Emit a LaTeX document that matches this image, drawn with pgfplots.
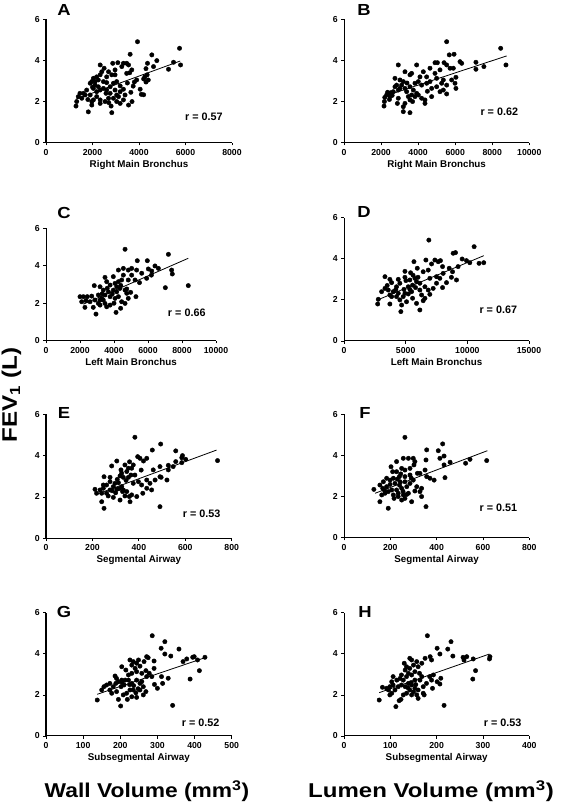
\documentclass[border=0pt]{standalone}
\usepackage{fontspec}
\setmainfont{Liberation Sans}
\usepackage{graphicx}
\usepackage{pgfplots}
\pgfplotsset{compat=1.18}
\pgfplotsset{
 panel/.style={
  scale only axis, enlargelimits=false, anchor=south west,
  axis lines=left, axis line style={-, line width=1pt},
  ymin=0, ymax=6, ytick={0,2,4,6}, xmin=0,
  tick style={black, line width=0.8pt}, tick align=outside, major tick length=2.8pt,
  /pgf/number format/assume math mode=true, /pgf/number format/1000 sep={},
  scaled ticks=false, clip=false,
  tick label style={font=\fontsize{8.7}{9}\selectfont\bfseries},
  xlabel style={font=\fontsize{9.8}{10}\selectfont\bfseries, at={(axis description cs:0.5,0)}, anchor=base, yshift=-24.6pt},
 },
 dots/.style={only marks, mark=*, mark size=2.2pt, black},
 fit/.style={no marks, black, line width=0.8pt},
}
\newcommand{\rlab}[3]{\node[font=\fontsize{10.8}{11}\selectfont\bfseries] at (rel axis cs:#1,#2) {#3};}
\begin{document}
\begin{tikzpicture}
\path[use as bounding box] (0pt,0pt) rectangle (567pt,805pt);
% ---------- A
\begin{axis}[panel, at={(46pt,662.3pt)}, width=186pt, height=123.4pt, xmax=8000, xtick={0,2000,4000,6000,8000}, xlabel={Right Main Bronchus}]
\addplot[dots] coordinates {(3935,4.91) (5744,4.59) (5787,3.78) (5485,3.91) (5270,3.57) (4552,4.27) (4767,3.99) (3619,4.30) (4366,3.86) (4624,3.70) (4300,3.60) (4250,3.20) (4350,3.30) (4200,3.10) (4300,2.95) (4400,3.05) (3800,2.95) (3900,3.05) (3750,2.75) (4050,2.60) (4100,2.35) (4200,2.33) (3700,2.00) (3550,1.83) (3330,2.08)
(2330,3.78) (2870,3.86) (3090,3.89) (3330,3.86) (3470,3.86) (3550,3.78) (3260,3.70) (3690,3.54) (3470,3.37) (2970,3.54) (2830,3.30) (2970,3.30) (2610,3.20) (2400,3.45) (2330,3.30) (2180,3.20) (2040,3.13) (1970,2.97) (1900,2.89) (2110,2.80) (2250,2.72) (2330,2.56) (2470,2.64) (2610,2.56) (2760,2.72) (2900,2.89) (3040,2.97) (3190,2.76) (3190,2.48) (3330,2.60) (3400,2.32) (3120,2.24) (2900,2.16) (2690,2.16) (2540,2.00) (2330,2.08) (2180,2.24) (2040,2.08) (1900,2.32) (1750,2.56) (1680,2.32) (1610,2.40) (1460,2.40) (1390,2.24) (1540,2.16) (1320,2.00) (1290,1.78) (1820,1.50) (1970,1.83) (1970,2.00) (2330,1.91) (2800,1.78) (2830,1.46) (3040,2.00) (3190,1.91) (2580,2.40) (2760,2.40) (2970,2.56) (3040,2.32) (2180,2.48) (2040,2.64) (2110,2.97) (2250,3.05) (2470,2.97) (2610,2.92) (2690,3.45) (2500,3.62) (3600,3.40) (3500,2.90) (3650,2.45) (2000,2.70) (1800,2.10) (2700,1.95)};
\addplot[fit] coordinates {(1290,2.12) (5770,3.97)};
\rlab{0.849}{0.211}{r = 0.57}
\end{axis}
% ---------- B
\begin{axis}[panel, at={(344pt,662.3pt)}, width=185.3pt, height=123.4pt, xmax=10000, xtick={0,2000,4000,6000,8000,10000}, xlabel={Right Main Bronchus}]
\addplot[dots] coordinates {(5540,4.91) (8455,4.59) (8740,3.78) (7120,3.91) (7120,3.57) (7550,3.70) (6260,3.94) (6350,3.86) (5680,4.27) (5940,4.30) (5400,3.89) (4910,3.89) (5040,3.89) (5540,3.78) (5720,3.62) (5900,3.62) (5180,3.54) (4640,3.62) (4280,3.45) (3920,3.78) (2930,3.78) (3650,3.37)
(6040,3.18) (5990,2.89) (6040,2.64) (5810,3.05) (5540,2.80) (5360,3.05) (5270,2.89) (5360,2.56) (5540,2.37) (5180,2.48) (5000,2.72) (4730,2.64) (4730,2.24) (4370,2.08) (4370,1.91) (4190,2.16) (4010,2.32) (3830,2.24) (3560,2.08) (3290,1.91) (3560,1.46) (3200,1.51) (3200,1.75) (2880,1.91) (2930,2.16) (2160,1.78) (2180,2.00) (2480,2.24) (2390,2.40) (2520,2.43) (2300,2.32) (2660,2.48) (2750,2.72) (2930,2.56) (3110,2.80) (3200,2.97) (3020,3.05) (3290,2.64) (3380,2.48) (3560,2.72) (3740,2.56) (3830,2.89) (4010,2.97) (4190,2.80) (4460,2.89) (4640,2.97) (3920,2.40) (3650,2.32) (3470,2.24) (4100,3.20) (4460,3.20) (4910,3.37) (5000,3.13) (2750,3.13) (3290,3.45) (3560,3.30) (3020,2.64) (2840,2.80) (2450,2.10) (2600,2.30) (3400,2.90) (3700,2.00) (4500,2.50) (2200,2.20) (2350,2.45)};
\addplot[fit] coordinates {(2120,2.24) (8780,4.22)};
\rlab{0.838}{0.251}{r = 0.62}
\end{axis}
% ---------- C
\begin{axis}[panel, at={(46pt,464.3pt)}, width=170pt, height=112.4pt, xmax=10000, xtick={0,2000,4000,6000,8000,10000}, xlabel={Left Main Bronchus}]
\addplot[dots] coordinates {(4650,4.88) (7200,4.61) (7390,3.77) (7430,3.56) (7020,2.83) (8370,2.94) (5960,4.27) (5370,4.27) (6410,3.99) (6020,3.83) (6220,3.72) (6610,3.86) (5920,3.33) (5630,3.60) (5330,3.77) (5040,3.86) (4840,3.77) (5040,3.50) (4840,3.24) (5240,3.24) (4550,3.50) (4260,3.77) (4550,3.86) (3960,3.42) (3470,3.38) (3570,3.15) (3770,2.97) (4060,3.06) (4260,3.15) (4450,3.24) (4160,2.88) (4350,2.79) (4650,2.70) (3960,2.70) (3670,2.61) (3370,2.70) (3180,2.88) (2840,2.94) (3080,2.44) (3280,2.26) (3470,2.44) (3770,2.35) (4060,2.26) (4260,2.35) (4450,2.08) (4650,1.99) (4750,2.53) (4840,2.26) (4390,1.73) (4120,1.51) (2940,1.42) (4750,2.76) (5290,2.35) (4980,2.58) (4160,2.61)
(2200,2.35) (2430,2.35) (2690,2.38) (2350,2.14) (2590,2.08) (2880,2.17) (3080,1.99) (3180,1.90) (2780,1.78) (2290,1.78) (2000,2.35) (2100,2.08) (3180,2.17) (3470,1.99) (3770,1.90) (3570,1.81) (3370,2.17) (3900,2.50) (4400,2.95) (3600,2.80) (5500,3.10) (6200,3.50) (4000,2.00) (3300,2.50)};
\addplot[fit] coordinates {(2200,1.95) (8370,4.40)};
\rlab{0.828}{0.249}{r = 0.66}
\end{axis}
% ---------- D
\begin{axis}[panel, at={(344pt,464pt)}, width=185pt, height=123.3pt, xmax=15000, xtick={0,5000,10000,15000}, xlabel={Left Main Bronchus}]
\addplot[dots] coordinates {(6880,4.91) (10550,4.59) (11330,3.81) (10950,3.78) (9930,3.91) (9580,3.99) (8850,4.27) (9040,4.30) (10200,3.81) (9250,3.62) (9120,2.97) (7990,2.60) (8310,2.84) (8710,3.10) (8800,3.37) (8530,3.54) (7990,3.62) (7640,3.86) (7370,3.94) (7820,3.91) (6640,3.94) (7100,3.75) (6830,3.45) (6420,3.37) (5940,3.54) (5670,3.86) (5400,3.32) (4940,3.39) (4940,3.10) (4400,3.00) (4530,2.81) (5020,2.94) (5340,2.97) (5750,3.05) (5880,2.89) (5560,2.72) (5210,2.64) (4860,2.51) (4260,2.64) (3860,2.84) (3720,3.00) (3320,3.13) (3590,2.48) (3320,2.56) (3050,2.40) (2780,2.03) (2730,1.80) (3720,1.80) (3860,2.16) (4260,2.16) (4530,2.00) (4670,1.75) (4610,1.43) (6150,1.51) (5880,1.83) (5560,2.08) (5210,2.29) (5480,2.40) (6150,2.48) (6560,2.64) (6830,2.48) (7230,2.56) (6960,2.27) (6560,2.08) (6290,2.24) (6420,1.96) (7500,2.81) (7770,3.05) (7500,3.13) (8040,3.29) (6960,3.05) (6150,2.81) (3990,2.40) (3720,2.24) (4400,2.32) (4800,2.16) (5070,1.91) (5340,2.51) (4940,2.32) (5600,3.20) (6000,3.10) (4200,2.50) (5800,2.60) (3500,2.70)};
\addplot[fit] coordinates {(2730,2.00) (11330,4.15)};
\rlab{0.834}{0.257}{r = 0.67}
\end{axis}
% ---------- E
\begin{axis}[panel, at={(46pt,266.7pt)}, width=185.7pt, height=124pt, xmax=800, xtick={0,200,400,600,800}, xlabel={Segmental Airway}]
\addplot[dots] coordinates {(383,4.89) (494,4.56) (739,3.76) (602,3.82) (585,3.66) (559,3.71) (559,4.23) (588,4.00) (585,3.90) (458,4.27) (527,3.53) (548,3.47) (491,3.47) (462,3.31) (527,3.31) (521,2.82) (496,2.95) (470,2.82) (491,2.98) (491,1.53) (434,3.87) (420,3.74) (405,3.87) (395,3.95) (376,3.55) (355,3.39) (340,3.55) (369,3.39) (383,3.06) (366,3.06) (348,3.23) (323,3.31) (283,3.50) (326,3.15) (319,3.02) (333,2.95) (355,2.95) (376,2.66) (398,2.74) (412,2.58) (434,2.82) (448,2.66) (455,2.34) (434,2.42) (417,2.18) (391,2.02) (369,2.10) (340,2.05) (319,1.85) (362,1.77) (359,2.02) (330,2.26) (305,2.37) (297,2.66) (276,2.74) (261,2.58) (247,2.42) (233,2.34) (218,2.18) (211,2.37) (240,2.18) (268,2.05) (290,1.98) (240,1.77) (250,1.45) (247,2.58) (250,2.98) (276,2.95) (305,3.74) (307,2.85) (261,2.18) (276,2.34) (290,2.50) (312,2.69) (326,2.50) (333,2.34) (348,2.26) (300,2.20) (315,2.40) (345,2.80) (285,2.30) (410,3.30) (360,3.70)};
\addplot[fit] coordinates {(211,2.10) (735,4.27)};
\rlab{0.838}{0.194}{r = 0.53}
\end{axis}
% ---------- F
\begin{axis}[panel, at={(344pt,267.3pt)}, width=185.3pt, height=123.4pt, xmax=800, xtick={0,200,400,600,800}, xlabel={Segmental Airway}]
\addplot[dots] coordinates {(263,4.88) (426,4.56) (616,3.75) (525,3.62) (544,3.81) (407,4.23) (414,3.86) (432,3.97) (458,3.67) (432,3.54) (357,4.27) (354,3.78) (350,3.29) (357,2.97) (371,2.89) (389,2.80) (436,2.92) (354,1.51) (335,2.00) (328,2.24) (335,2.40) (314,2.48) (306,2.27) (299,2.80) (306,3.70) (299,3.86) (278,3.86) (256,3.86) (227,3.70) (203,3.45) (210,3.21) (227,3.21) (249,3.37) (263,3.29) (285,3.37) (302,3.54) (317,3.13) (328,3.13) (285,3.05) (263,2.97) (239,2.97) (213,2.89) (199,2.80) (184,2.89) (170,2.72) (184,2.48) (199,2.59) (220,2.64) (242,2.72) (263,2.72) (285,2.64) (271,2.48) (249,2.40) (227,2.32) (206,2.32) (191,2.24) (177,2.16) (163,2.08) (129,2.35) (155,1.75) (191,1.43) (155,2.56) (167,2.40) (213,2.08) (234,2.00) (249,1.83) (263,1.91) (292,1.75) (278,2.16) (256,2.08) (234,2.16) (216,1.91) (240,2.55) (255,2.25) (270,2.10) (230,2.85) (290,2.90) (245,3.10) (175,2.30)};
\addplot[fit] coordinates {(134,2.16) (619,4.23)};
\rlab{0.833}{0.246}{r = 0.51}
\end{axis}
% ---------- G
\begin{axis}[panel, at={(46pt,69pt)}, width=185.7pt, height=123.3pt, xmax=500, xtick={0,100,200,300,400,500}, xlabel={Subsegmental Airway}]
\addplot[dots] coordinates {(286,4.88) (320,4.59) (310,4.27) (320,3.99) (336,3.89) (358,4.23) (369,3.62) (379,3.75) (395,3.83) (399,3.86) (408,3.70) (428,3.83) (413,3.18) (388,2.77) (341,1.49) (329,2.81) (311,2.89) (314,2.56) (300,2.32) (292,2.51) (291,3.29) (291,3.65) (271,3.86) (275,3.81) (264,3.62) (249,3.70) (244,3.54) (235,3.62) (226,3.70) (231,3.45) (240,3.29) (253,3.40) (269,3.18) (278,3.05) (285,2.89) (271,2.89) (258,3.05) (244,3.13) (231,3.05) (222,2.97) (215,3.21) (204,3.37) (213,2.72) (222,2.72) (231,2.56) (244,2.72) (253,2.56) (262,2.40) (269,2.16) (262,2.00) (253,2.24) (242,2.10) (235,2.24) (226,2.24) (217,2.08) (208,2.00) (219,1.78) (231,1.91) (244,1.88) (201,1.46) (195,1.78) (202,2.40) (195,2.64) (190,2.80) (188,2.56) (181,2.40) (172,2.24) (177,2.08) (190,2.16) (186,2.92) (204,2.72) (210,2.48) (138,1.75) (156,2.40) (172,2.56) (163,2.48) (150,2.24) (236,2.45) (248,2.30) (258,2.65) (225,2.50) (205,2.60)};
\addplot[fit] coordinates {(138,2.03) (428,3.81)};
\rlab{0.833}{0.108}{r = 0.52}
\end{axis}
% ---------- H
\begin{axis}[panel, at={(344pt,69pt)}, width=185.3pt, height=123.3pt, xmax=400, xtick={0,100,200,300,400}, xlabel={Subsegmental Airway}]
\addplot[dots] coordinates {(180,4.88) (231,4.59) (201,4.27) (224,4.23) (207,3.99) (235,3.89) (259,3.70) (257,3.83) (265,3.86) (279,3.75) (314,3.75) (315,3.86) (284,3.18) (278,2.77) (216,1.49) (209,2.81) (189,2.72) (193,2.97) (185,2.89) (201,2.64) (191,2.32) (207,2.53) (178,2.56) (171,2.40) (171,2.08) (173,2.00) (186,3.86) (189,3.70) (175,3.78) (168,3.54) (160,3.37) (157,3.62) (146,3.70) (142,3.78) (150,3.45) (142,3.29) (135,3.37) (132,3.21) (153,3.13) (163,3.05) (146,2.97) (135,2.89) (128,2.72) (121,2.80) (114,2.72) (106,2.89) (103,2.64) (99,2.40) (96,2.24) (103,2.08) (110,2.24) (117,2.40) (124,2.48) (132,2.40) (139,2.56) (146,2.48) (153,2.32) (160,2.24) (142,2.24) (135,2.08) (146,2.00) (157,2.00) (160,1.83) (128,2.00) (123,1.78) (119,1.72) (112,1.43) (76,1.75) (83,2.37) (99,2.00) (92,2.32) (106,2.48) (153,2.72) (164,2.72) (168,2.89) (139,3.05) (124,2.97) (130,3.54) (145,2.60) (150,2.15) (138,2.35) (155,2.50)};
\addplot[fit] coordinates {(76,2.11) (314,3.99)};
\rlab{0.856}{0.108}{r = 0.53}
\end{axis}
% ---------- panel letters
\begin{scope}[every node/.style={font=\fontsize{16}{16}\selectfont\bfseries, inner sep=0pt}]
\node at (64pt,795pt) {\scalebox{1.15}[1]{A}};
\node at (364pt,795pt) {\scalebox{1.15}[1]{B}};
\node at (64pt,592pt) {\scalebox{1.15}[1]{C}};
\node at (364pt,592.5pt) {\scalebox{1.15}[1]{D}};
\node at (64pt,392pt) {\scalebox{1.15}[1]{E}};
\node at (365pt,391.5pt) {\scalebox{1.15}[1]{F}};
\node at (64pt,193pt) {\scalebox{1.15}[1]{G}};
\node at (365pt,193pt) {\scalebox{1.15}[1]{H}};
\end{scope}
% ---------- common labels
\node[rotate=90, font=\fontsize{21}{21}\selectfont\bfseries, inner sep=0pt] at (11.5pt,410pt) {\scalebox{1.15}[1]{FEV\textsubscript{1} (L)}};
\node[font=\fontsize{20}{20}\selectfont\bfseries, inner sep=0pt, anchor=base] at (147pt,7.3pt) {\scalebox{1.14}[1]{Wall Volume (mm\textsuperscript{3})}};
\node[font=\fontsize{20}{20}\selectfont\bfseries, inner sep=0pt, anchor=base] at (431pt,7.3pt) {\scalebox{1.2}[1]{Lumen Volume (mm\textsuperscript{3})}};
\end{tikzpicture}
\end{document}
